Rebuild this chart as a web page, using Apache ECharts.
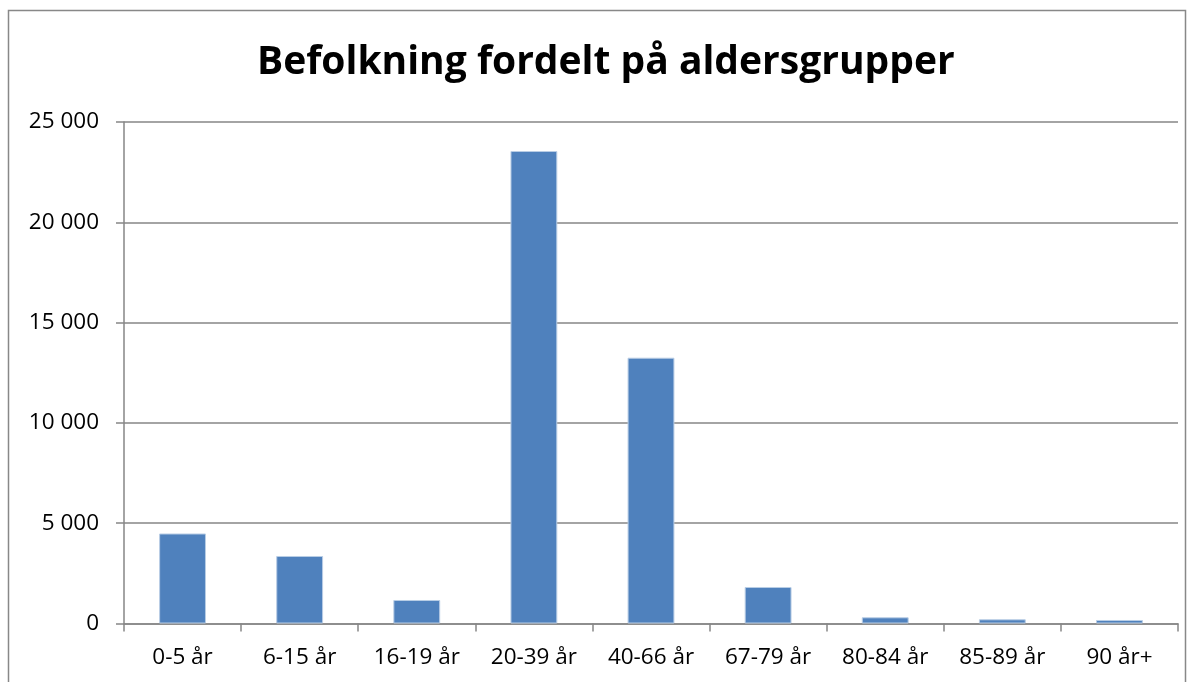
<!DOCTYPE html>
<html><head><meta charset="utf-8">
<script src="https://cdn.jsdelivr.net/npm/echarts@6/dist/echarts.min.js"></script>
<style>html,body{margin:0;padding:0;background:#fff}#c{width:1194px;height:682px}</style>
</head><body><div id="c"></div>
<script>
const categories = ['0-5 år','6-15 år','16-19 år','20-39 år','40-66 år','67-79 år','80-84 år','85-89 år','90 år+'];
const values = [4487, 3365, 1172, 23554, 13250, 1820, 309, 209, 175];
const yTicks = [0, 5000, 10000, 15000, 20000, 25000];
const titleText = 'Befolkning fordelt på aldersgrupper';

const fmt = v => String(v).replace(/\B(?=(\d{3})+(?!\d))/g, ' ');
const chart = echarts.init(document.getElementById('c'), null, {renderer:'canvas'});
chart.setOption({
  animation:false,
  backgroundColor:'#fff',
  graphic:[{type:'rect', shape:{x:8.5,y:10.5,width:1177,height:700}, style:{fill:'none',stroke:'#888',lineWidth:1.5}, silent:true}],
  title:{text:titleText, left:252, top:38, padding:5, textStyle:{fontFamily:'Open Sans', fontWeight:'bold', fontSize:39, color:'#000'}},
  grid:{left:124, right:16, top:122, bottom:58.5},
  xAxis:{type:'category', data:categories, boundaryGap:true,
    axisLine:{lineStyle:{color:'#868686', width:1.5}},
    axisTick:{show:true, alignWithLabel:false, length:8, lineStyle:{color:'#868686', width:1.5}},
    axisLabel:{color:'#000', fontFamily:'Open Sans', fontSize:22.5, margin:23, interval:0}},
  yAxis:{type:'value', min:yTicks[0], max:yTicks[yTicks.length-1], interval:5000,
    axisLine:{show:true, lineStyle:{color:'#868686', width:1.5}},
    axisTick:{show:true, length:8, lineStyle:{color:'#868686', width:1.5}},
    splitLine:{lineStyle:{color:'#868686', width:1.5}},
    axisLabel:{color:'#000', fontFamily:'Open Sans', fontSize:22.5, margin:25, formatter:v=>fmt(v)}},
  series:[{type:'bar', data:values, barWidth:'40%',
    itemStyle:{color:'#4F81BD', borderColor:'#B9CDE5', borderWidth:1}}]
});
</script></body></html>
